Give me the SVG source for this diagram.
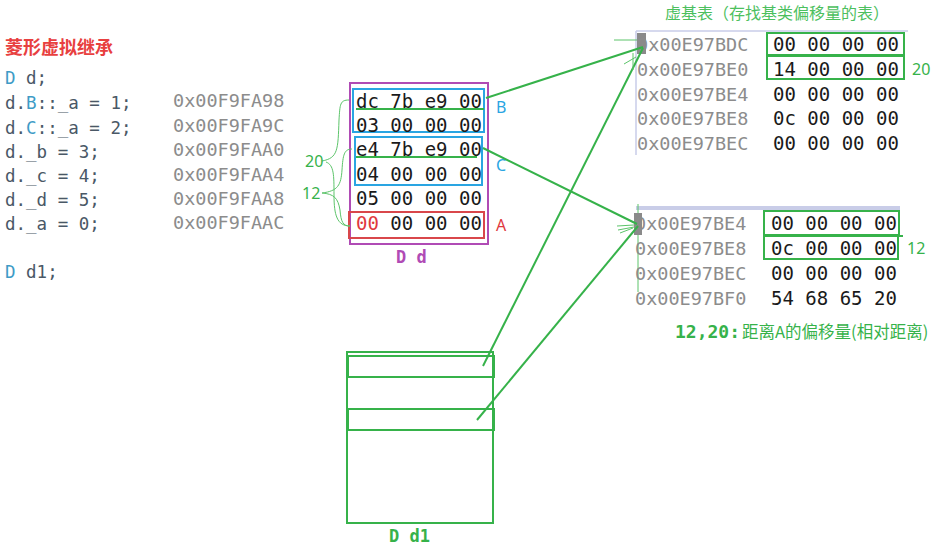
<svg xmlns="http://www.w3.org/2000/svg" width="934" height="548" viewBox="0 0 934 548">
<style>
text{dominant-baseline:central}
.mono{font-family:"DejaVu Sans Mono","Liberation Mono",monospace}
.code{font-size:17.5px;fill:#4a5866}
.kw{fill:#3e9bc6}
.addr{font-size:18.5px;fill:#8c8c8c}
.val{font-size:19px;fill:#1a1a1a}
.cjk{font-family:"Noto Sans CJK SC","Noto Sans",sans-serif}
.g{fill:#36b24a}
.gs{fill:none;stroke:#36b24a;stroke-width:2}
.gt{fill:none;stroke:#5cc46a;stroke-width:1}
.lbl{font-family:"Noto Sans","DejaVu Sans",sans-serif;font-size:16px}
</style>
<rect width="934" height="548" fill="#ffffff"/>

<g id="code">
<text x="5" y="46" class="cjk" font-size="18" font-weight="bold" fill="#e8403f">菱形虚拟继承</text>
<text x="5" y="78" class="mono code"><tspan class="kw">D</tspan> d;</text>
<text x="5" y="103" class="mono code">d.<tspan class="kw">B</tspan>::_a = 1;</text>
<text x="5" y="128" class="mono code">d.<tspan class="kw">C</tspan>::_a = 2;</text>
<text x="5" y="152" class="mono code">d._b = 3;</text>
<text x="5" y="176" class="mono code">d._c = 4;</text>
<text x="5" y="200" class="mono code">d._d = 5;</text>
<text x="5" y="224" class="mono code">d._a = 0;</text>
<text x="5" y="272" class="mono code"><tspan class="kw">D</tspan> d1;</text>
</g>

<g id="addresses">
<text x="173" y="100" class="mono addr">0x00F9FA98</text>
<text x="173" y="125" class="mono addr">0x00F9FA9C</text>
<text x="173" y="149" class="mono addr">0x00F9FAA0</text>
<text x="173" y="174" class="mono addr">0x00F9FAA4</text>
<text x="173" y="198" class="mono addr">0x00F9FAA8</text>
<text x="173" y="222" class="mono addr">0x00F9FAAC</text>
</g>

<g id="obj-d">
<rect x="350" y="83" width="138" height="161" fill="none" stroke="#b04bb5" stroke-width="2"/>
<rect x="353" y="89" width="131" height="43" fill="none" stroke="#2aa5e2" stroke-width="2"/>
<rect x="355" y="137" width="127" height="48" fill="none" stroke="#2aa5e2" stroke-width="2"/>
<rect x="349" y="212" width="135" height="26" fill="none" stroke="#d9474b" stroke-width="2"/>
<line x1="356" y1="109" x2="484" y2="109" class="gs"/>
<line x1="356" y1="157" x2="477" y2="157" class="gs"/>
<text x="356" y="101" class="mono val">dc 7b e9 00</text>
<text x="356" y="125" class="mono val">03 00 00 00</text>
<text x="356" y="149" class="mono val">e4 7b e9 00</text>
<text x="356" y="174" class="mono val">04 00 00 00</text>
<text x="356" y="198" class="mono val">05 00 00 00</text>
<text x="356" y="223" class="mono val"><tspan fill="#e0393e">00</tspan> 00 00 00</text>
<text x="496" y="107" class="lbl" fill="#2aa5e2">B</text>
<text x="496" y="165" class="lbl" fill="#2aa5e2">C</text>
<text x="496" y="225" class="lbl" fill="#e0393e">A</text>
<text x="396" y="257" class="mono" font-size="17" font-weight="bold" fill="#b04bb5">D d</text>
</g>

<g id="braces">
<path d="M349,100 C340,100 340,104 339,120 C338,150 338,158 322,161" class="gt"/>
<path d="M326,162 C334,165 334,175 334,195 C334,215 337,226 350,226" class="gt"/>
<path d="M352,149 C344,149 343,155 342,170 C341,185 338,191 322,193" class="gt"/>
<path d="M322,193 C334,194 338,198 340,210 C341,222 343,226 350,226" class="gt"/>
<text x="305" y="161" class="lbl g">20</text>
<text x="302" y="193" class="lbl g">12</text>
</g>

<g id="vbtable-1">
<text x="665" y="12" class="cjk" font-size="16" fill="#4cc05e">虚基表（存找基类偏移量的表）</text>
<line x1="636" y1="31" x2="908" y2="31" stroke="#c9cde8" stroke-width="1.5"/>
<line x1="636" y1="31" x2="636" y2="155" stroke="#c9cde8" stroke-width="1.5"/>
<rect x="637" y="33" width="9" height="21" fill="#8a8a8a"/>
<text x="637" y="44" class="mono addr">0x00E97BDC</text>
<text x="637" y="69" class="mono addr">0x00E97BE0</text>
<text x="637" y="94" class="mono addr">0x00E97BE4</text>
<text x="637" y="118" class="mono addr">0x00E97BE8</text>
<text x="637" y="143" class="mono addr">0x00E97BEC</text>
<text x="773" y="44" class="mono val">00 00 00 00</text>
<text x="773" y="69" class="mono val">14 00 00 00</text>
<text x="773" y="94" class="mono val">00 00 00 00</text>
<text x="773" y="118" class="mono val">0c 00 00 00</text>
<text x="773" y="143" class="mono val">00 00 00 00</text>
<rect x="767" y="33" width="137" height="22" class="gs"/>
<rect x="767" y="56" width="137" height="23" class="gs"/>
<text x="912" y="69" class="lbl g">20</text>
</g>

<g id="vbtable-2">
<line x1="636" y1="208" x2="900" y2="208" stroke="#c9cde8" stroke-width="4"/>
<line x1="638" y1="204" x2="638" y2="292" class="gt"/>
<rect x="634" y="213" width="8" height="22" fill="#8a8a8a"/>
<text x="635" y="223" class="mono addr">0x00E97BE4</text>
<text x="635" y="248" class="mono addr">0x00E97BE8</text>
<text x="635" y="273" class="mono addr">0x00E97BEC</text>
<text x="635" y="298" class="mono addr">0x00E97BF0</text>
<text x="771" y="223" class="mono val">00 00 00 00</text>
<text x="771" y="248" class="mono val">0c 00 00 00</text>
<text x="771" y="273" class="mono val">00 00 00 00</text>
<text x="771" y="298" class="mono val">54 68 65 20</text>
<rect x="764" y="211" width="135" height="24" class="gs"/>
<rect x="764" y="236" width="134" height="23" class="gs"/>
<line x1="835" y1="236" x2="903" y2="236" class="gs" stroke-width="1.5"/>
<text x="907" y="248" class="lbl g">12</text>
<text x="675" y="331" class="g"><tspan class="mono" font-size="18" font-weight="bold">12,20:</tspan><tspan class="cjk" font-size="16.5" dx="2">距离A的偏移量(相对距离)</tspan></text>
</g>

<g id="obj-d1">
<rect x="347" y="352" width="146" height="171" class="gs"/>
<rect x="348" y="356" width="146" height="21" class="gs"/>
<rect x="348" y="409" width="146" height="21" class="gs"/>
<text x="389" y="536" class="mono g" font-size="17" font-weight="bold">D d1</text>
</g>

<g id="connectors">
<line x1="486" y1="98" x2="643" y2="47" class="gs"/>
<line x1="483" y1="148" x2="637" y2="224" class="gs"/>
<line x1="483" y1="366" x2="643" y2="48" class="gs"/>
<line x1="477" y1="420" x2="638" y2="226" class="gs"/>
<line x1="614" y1="40" x2="637" y2="40" class="gt"/>
<line x1="624" y1="64" x2="636" y2="57" class="gt"/>
<line x1="633" y1="53" x2="633" y2="70" class="gt"/>
<line x1="617" y1="226" x2="634" y2="225" class="gt"/>
<line x1="618" y1="230" x2="634" y2="227" class="gt"/>
<line x1="620" y1="233" x2="633" y2="228" class="gt"/>
</g>
</svg>
